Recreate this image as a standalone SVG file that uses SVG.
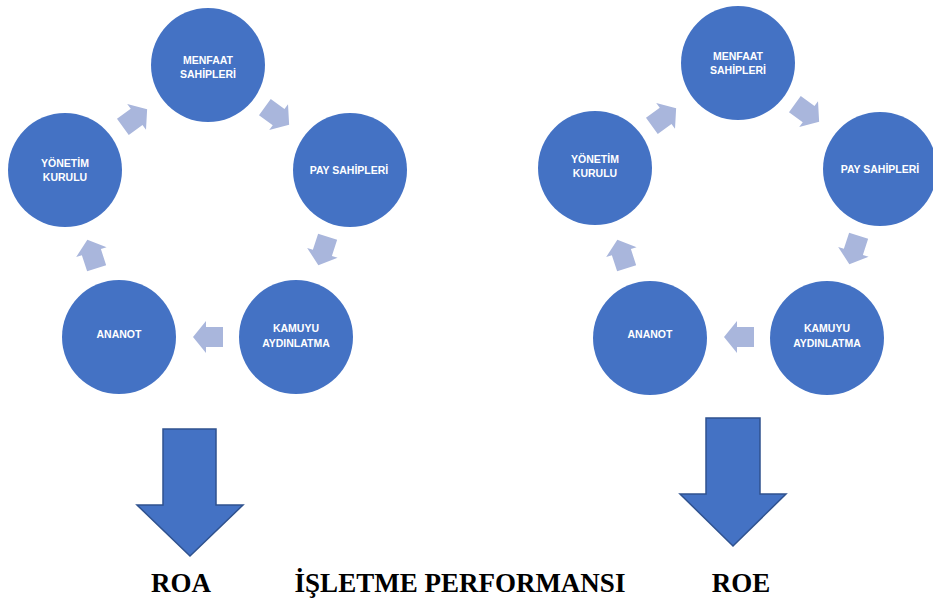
<svg xmlns="http://www.w3.org/2000/svg" xmlns:xlink="http://www.w3.org/1999/xlink" width="933" height="603" viewBox="0 0 933 603">
<style>
.c{fill:#4472c4}
.t{font-family:"Liberation Sans",Arial,sans-serif;font-weight:bold;font-size:10.5px;fill:#ffffff;text-anchor:middle}
.cyc{fill:#a9b6dc}
.big{fill:#4472c4;stroke:#2f528f;stroke-width:1.5}
.lab{font-family:"Liberation Serif","Times New Roman",serif;font-weight:bold;font-size:27px;fill:#000;text-anchor:middle}
</style>
<defs>
<path id="ca" d="M-15,-10 H2 V-16 L15,0 L2,16 V10 H-15 Z"/>
</defs>
<rect width="933" height="603" fill="#fff"/>
<g id="connectors">
<use xlink:href="#ca" href="#ca" class="cyc" transform="translate(135,118) rotate(-36)"/>
<use xlink:href="#ca" href="#ca" class="cyc" transform="translate(277,116) rotate(36)"/>
<use xlink:href="#ca" href="#ca" class="cyc" transform="translate(323,251) rotate(108)"/>
<use xlink:href="#ca" href="#ca" class="cyc" transform="translate(208,337) rotate(180)"/>
<use xlink:href="#ca" href="#ca" class="cyc" transform="translate(92,254) rotate(-108)"/>
<use xlink:href="#ca" href="#ca" class="cyc" transform="translate(664,117) rotate(-36)"/>
<use xlink:href="#ca" href="#ca" class="cyc" transform="translate(807,113) rotate(36)"/>
<use xlink:href="#ca" href="#ca" class="cyc" transform="translate(854,250) rotate(108)"/>
<use xlink:href="#ca" href="#ca" class="cyc" transform="translate(739,337) rotate(180)"/>
<use xlink:href="#ca" href="#ca" class="cyc" transform="translate(622,254) rotate(-108)"/>
<path class="big" d="M163,429 H216 V505 H243 L190,556 L137,505 H163 Z"/>
<path class="big" d="M706,418 H760 V494 H786 L733,546 L680,494 H706 Z"/>
</g>
<g id="l-menfaat"><circle class="c" cx="208" cy="65" r="57"/><text class="t" x="208" y="64">MENFAAT</text><text class="t" x="208" y="78">SAHİPLERİ</text></g>
<g id="l-pay"><circle class="c" cx="350" cy="170" r="57"/><text class="t" x="349" y="174">PAY SAHİPLERİ</text></g>
<g id="l-kamuyu"><circle class="c" cx="296" cy="337" r="57"/><text class="t" x="296" y="332">KAMUYU</text><text class="t" x="296" y="347">AYDINLATMA</text></g>
<g id="l-ananot"><circle class="c" cx="119" cy="337" r="57"/><text class="t" x="119" y="338">ANANOT</text></g>
<g id="l-yonetim"><circle class="c" cx="65" cy="170" r="57"/><text class="t" x="65" y="167">YÖNETİM</text><text class="t" x="65" y="181">KURULU</text></g>
<g id="r-menfaat"><circle class="c" cx="738" cy="63" r="57"/><text class="t" x="738" y="60">MENFAAT</text><text class="t" x="738" y="74">SAHİPLERİ</text></g>
<g id="r-pay"><circle class="c" cx="880" cy="169" r="57"/><text class="t" x="880" y="173">PAY SAHİPLERİ</text></g>
<g id="r-kamuyu"><circle class="c" cx="827" cy="338" r="57"/><text class="t" x="827" y="332">KAMUYU</text><text class="t" x="827" y="347">AYDINLATMA</text></g>
<g id="r-ananot"><circle class="c" cx="650" cy="338" r="57"/><text class="t" x="650" y="338">ANANOT</text></g>
<g id="r-yonetim"><circle class="c" cx="595" cy="168" r="57"/><text class="t" x="595" y="163">YÖNETİM</text><text class="t" x="595" y="177">KURULU</text></g>
<g id="labels">
<text class="lab" x="181" y="592">ROA</text>
<text class="lab" x="460" y="592">İŞLETME PERFORMANSI</text>
<text class="lab" x="741" y="592">ROE</text>
</g>
</svg>
